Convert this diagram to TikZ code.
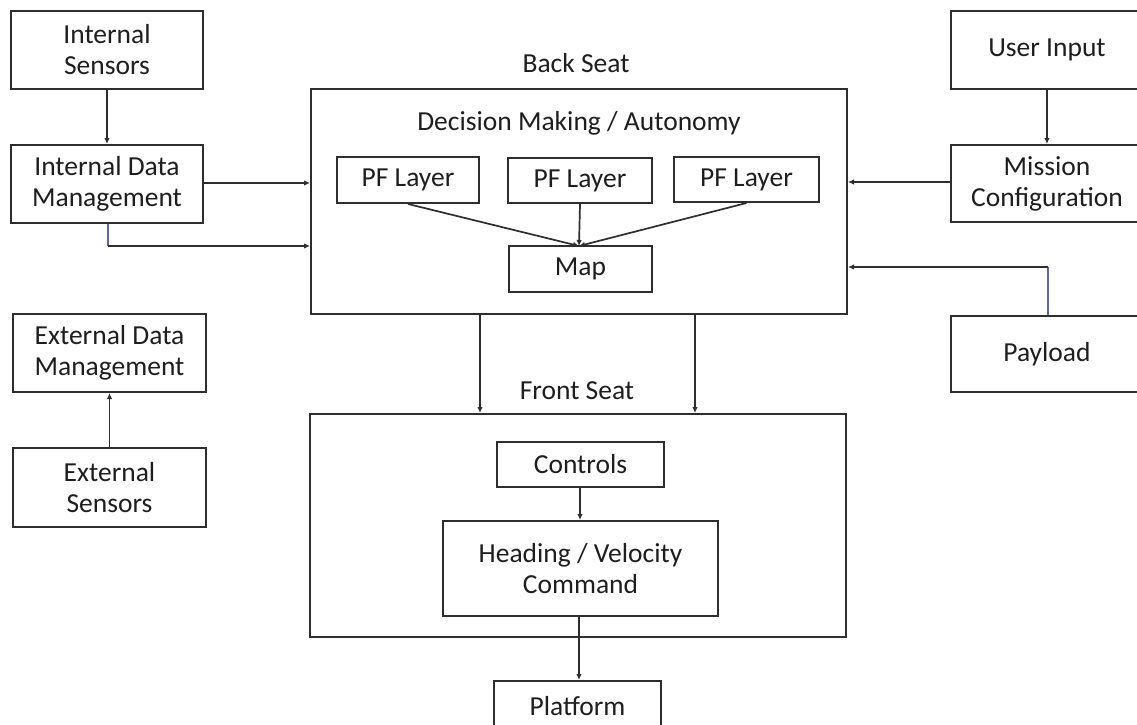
\documentclass[tikz,border=0pt]{standalone}
\usepackage{fontspec}
\setmainfont{Carlito}
\usetikzlibrary{arrows.meta}
\definecolor{ink}{HTML}{2E2E2E}
\definecolor{txt}{HTML}{1E1E1E}
\definecolor{wire}{HTML}{5566BB}
\begin{document}
\begin{tikzpicture}[x=1pt,y=-1pt,
  box/.style={draw=ink, line width=2pt, inner sep=0pt, align=center, text=txt,
    font=\fontsize{27.5}{31}\selectfont},
  lbl/.style={inner sep=0pt, text=txt, font=\fontsize{27.5}{31}\selectfont},
  conn/.style={draw=ink, line width=1.7pt, -{Latex[length=6pt,width=5.5pt]}},
  bluewire/.style={draw=wire, line width=1.4pt}]
\useasboundingbox (0,0) rectangle (1137,725);
\clip (0,0) rectangle (1137,725);
\fill[white] (0,0) rectangle (1137,725);

% left column
\node[box, minimum width=192pt, minimum height=78pt] (is) at (107,50) {Internal\\Sensors};
\node[box, minimum width=192pt, minimum height=78pt] (idm) at (107,184) {Internal Data\\Management};
\node[box, minimum width=193pt, minimum height=78pt] (edm) at (109.5,353) {External Data\\Management};
\node[box, minimum width=193pt, minimum height=79pt] (es) at (109.5,487.5) {External\\Sensors};

% right column (cut by the page edge)
\node[box, minimum width=192pt, minimum height=78pt] (ui) at (1047,50) {User Input};
\node[box, minimum width=192pt, minimum height=77pt] (mc) at (1047,183.5) {Mission\\Configuration};
\node[box, minimum width=192pt, minimum height=76pt] (pl) at (1047,354) {Payload};

% back seat
\node[box, minimum width=536pt, minimum height=225pt] (back) at (579,201.5) {};
\node[lbl] (backlbl) at (576,63) {Back Seat};
\node[lbl] (dm) at (579,123) {Decision Making / Autonomy};
\node[box, minimum width=142pt, minimum height=46pt] (pf1) at (408,180) {PF Layer};
\node[box, minimum width=144pt, minimum height=45pt] (pf2) at (580,180.5) {PF Layer};
\node[box, minimum width=145pt, minimum height=45pt] (pf3) at (746.5,179.5) {PF Layer};
\node[box, minimum width=143pt, minimum height=46pt] (map) at (580.5,269) {Map};

% front seat
\node[box, minimum width=536pt, minimum height=223pt] (front) at (578,525.5) {};
\node[lbl] (frontlbl) at (577,391) {Front Seat};
\node[box, minimum width=167pt, minimum height=45pt] (ctrl) at (580.5,464.5) {Controls};
\node[box, minimum width=275pt, minimum height=95pt] (hv) at (580.5,568.5) {Heading / Velocity\\Command};
\node[box, minimum width=167pt, minimum height=50pt] (plat) at (577.5,706) {Platform};

% connectors left
\draw[conn] (is.south) -- (idm.north);
\draw[conn] (idm.east |- 0,183) -- (back.west |- 0,183);
\coordinate (c1) at (108,246);
\draw[bluewire] (idm.south -| c1) -- (c1);
\draw[conn] (c1) -- (back.west |- c1);
\draw[conn] (es.north) -- (edm.south);

% connectors right
\draw[conn] (ui.south) -- (mc.north);
\draw[conn] (mc.west |- 0,182) -- (back.east |- 0,182);
\coordinate (c2) at (1048,267);
\draw[bluewire] (pl.north -| c2) -- (c2);
\draw[conn] (c2) -- (back.east |- c2);

% inside back seat
\coordinate (mt) at (579,246);
\draw[conn] (pf1.south) -- (mt);
\draw[conn] (pf2.south) -- (mt);
\draw[conn] (pf3.south) -- (mt);

% back to front
\draw[conn] (back.south -| 480,0) -- (front.north -| 480,0);
\draw[conn] (back.south -| 695,0) -- (front.north -| 695,0);

% front internals
\draw[conn] (ctrl.south -| 580,0) -- (hv.north -| 580,0);
\draw[conn] (hv.south -| 579,0) -- (plat.north -| 579,0);
\end{tikzpicture}
\end{document}
